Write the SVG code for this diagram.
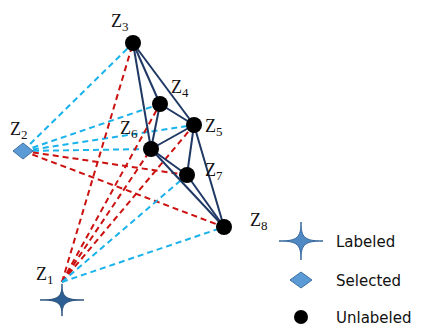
<svg xmlns="http://www.w3.org/2000/svg" width="431" height="327" viewBox="0 0 431 327">
<defs>
<style>
.e{stroke:#1f3864;stroke-width:2;fill:none}
.b{stroke:#1ab2ea;stroke-width:2;stroke-dasharray:6 4;fill:none}
.r{stroke:#cc1111;stroke-width:2;stroke-dasharray:6 4;fill:none}
.n{fill:#000}
.lab{font-family:"Liberation Serif",serif;font-size:18px;fill:#111}
.lab tspan{font-size:13px}
.leg{font-family:"DejaVu Sans",sans-serif;font-size:15px;fill:#111}
.star{fill:#4f88c2;stroke:#36679c;stroke-width:1}
.star1{fill:#2f5f92;stroke:#254d78;stroke-width:1}
.dia{fill:#5b9bd5;stroke:#3e6fa3;stroke-width:1}
</style>
<path id="starShape" d="M0,-19 C0,-3.5 3.5,0 22,0 C3.5,0 0,3.5 0,19 C0,3.5 -3.5,0 -22,0 C-3.5,0 0,-3.5 0,-19Z"/>
</defs>
<g id="connectors">
<line class="b" x1="23" y1="151" x2="133" y2="43"/>
<line class="b" x1="23" y1="151" x2="160" y2="104"/>
<line class="b" x1="23" y1="151" x2="194" y2="125"/>
<line class="b" x1="23" y1="151" x2="151" y2="149"/>
<line class="r" x1="23" y1="151" x2="187" y2="175"/>
<line class="r" x1="23" y1="151" x2="224" y2="227"/>
<line class="r" x1="62" y1="282" x2="133" y2="43"/>
<line class="r" x1="62" y1="282" x2="160" y2="104"/>
<line class="r" x1="62" y1="282" x2="194" y2="125"/>
<line class="r" x1="62" y1="282" x2="151" y2="149"/>
<line class="b" x1="62" y1="282" x2="187" y2="175"/>
<line class="b" x1="62" y1="282" x2="224" y2="227"/>
<line class="e" x1="133" y1="43" x2="160" y2="104"/>
<line class="e" x1="133" y1="43" x2="151" y2="149"/>
<line class="e" x1="133" y1="43" x2="194" y2="125"/>
<line class="e" x1="160" y1="104" x2="194" y2="125"/>
<line class="e" x1="160" y1="104" x2="151" y2="149"/>
<line class="e" x1="194" y1="125" x2="151" y2="149"/>
<line class="e" x1="194" y1="125" x2="187" y2="175"/>
<line class="e" x1="194" y1="125" x2="224" y2="227"/>
<line class="e" x1="151" y1="149" x2="187" y2="175"/>
<line class="e" x1="151" y1="149" x2="224" y2="227"/>
<line class="e" x1="187" y1="175" x2="224" y2="227"/>
</g>
<g id="Z1"><use href="#starShape" class="star1" transform="translate(62,300) scale(1,0.85)"/><text class="lab" x="36" y="280">Z<tspan dy="4">1</tspan></text></g>
<g id="Z2"><polygon class="dia" points="13,151 23,143 33,151 23,159"/><text class="lab" x="10" y="135">Z<tspan dy="4">2</tspan></text></g>
<g id="Z3"><circle class="n" cx="133" cy="43" r="8"/><text class="lab" x="111" y="27">Z<tspan dy="4">3</tspan></text></g>
<g id="Z4"><circle class="n" cx="160" cy="104" r="8"/><text class="lab" x="171" y="93">Z<tspan dy="4">4</tspan></text></g>
<g id="Z5"><circle class="n" cx="194" cy="125" r="8"/><text class="lab" x="205" y="132">Z<tspan dy="4">5</tspan></text></g>
<g id="Z6"><circle class="n" cx="151" cy="149" r="8"/><text class="lab" x="120" y="134">Z<tspan dy="4">6</tspan></text></g>
<g id="Z7"><circle class="n" cx="187" cy="175" r="8"/><text class="lab" x="205" y="176">Z<tspan dy="4">7</tspan></text></g>
<g id="Z8"><circle class="n" cx="224" cy="227" r="8"/><text class="lab" x="250" y="226">Z<tspan dy="4">8</tspan></text></g>
<g id="legend">
<use href="#starShape" class="star" transform="translate(301,241)"/>
<text class="leg" x="336" y="247">Labeled</text>
<polygon class="dia" points="290,280 301,272 312,280 301,288"/>
<text class="leg" x="336" y="286">Selected</text>
<circle class="n" cx="301" cy="317" r="7"/>
<text class="leg" x="336" y="323">Unlabeled</text>
</g>
</svg>
